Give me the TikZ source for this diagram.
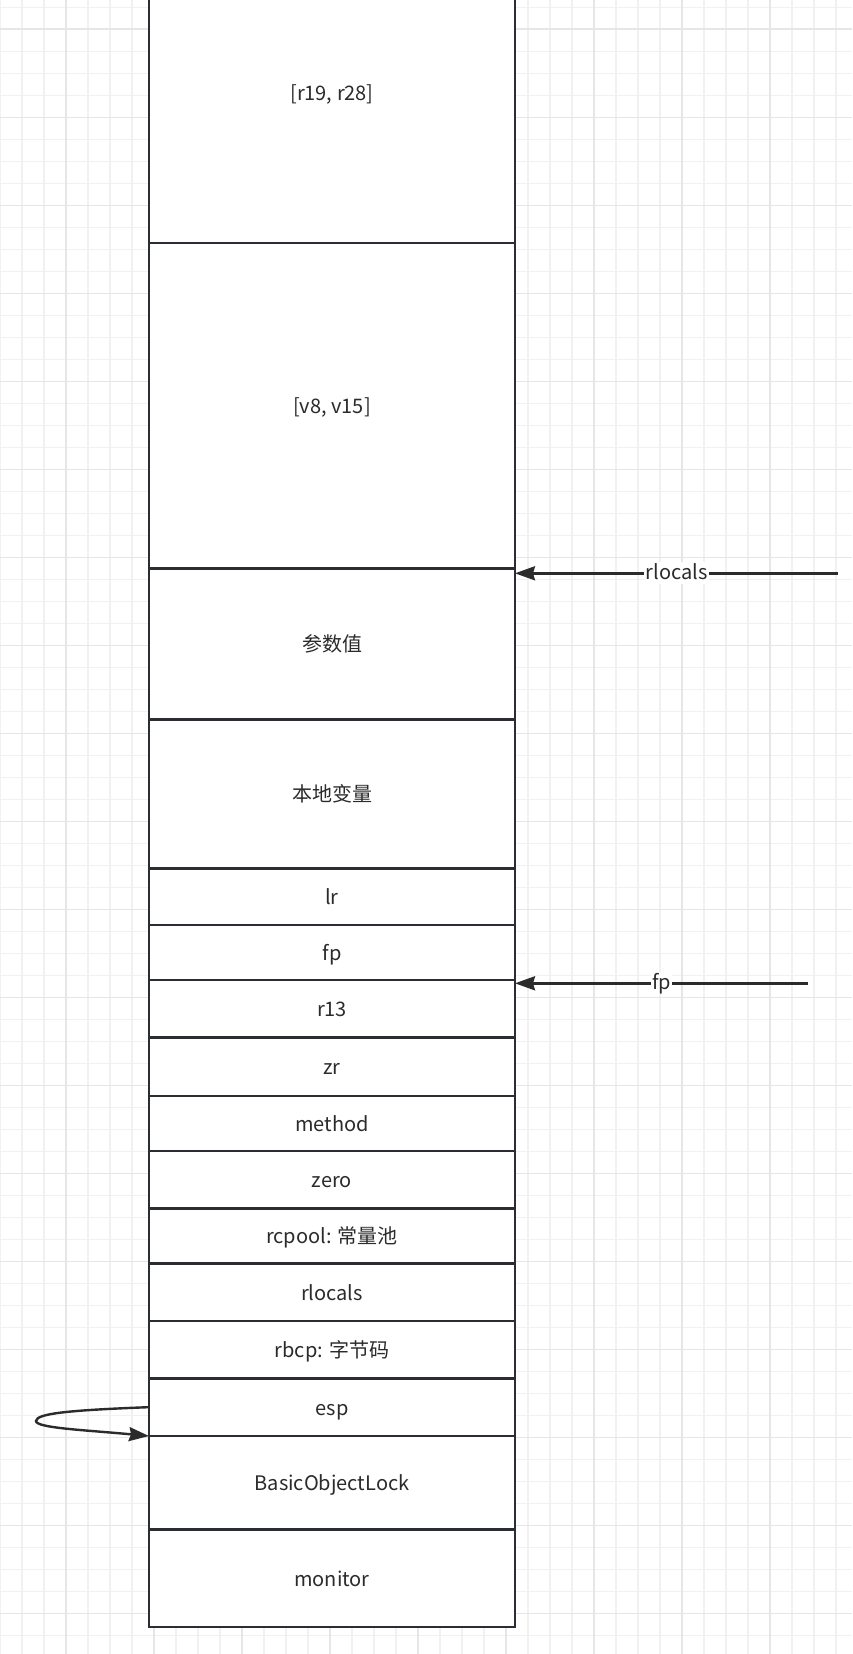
\documentclass[tikz,border=0pt]{standalone}
\usepackage{fontspec}
\setmainfont{Noto Sans CJK SC}
\usetikzlibrary{arrows.meta}
\definecolor{gridminor}{HTML}{F1F1F1}
\definecolor{gridmajor}{HTML}{E6E6E6}
\definecolor{boxline}{HTML}{2A2E33}
\definecolor{txt}{HTML}{2B2B2B}
\tikzset{
  cell/.style={draw=boxline, line width=2.4pt, fill=white, minimum width=366pt,
    inner sep=0pt, outer sep=0pt, text=txt, text height=16pt, text depth=0pt,
    font=\fontsize{20}{24}\selectfont},
  ptr/.style={draw=txt, line width=2.4pt, -{Stealth[length=20pt,width=14pt,inset=2pt]}},
  ptrlabel/.style={fill=white, inner sep=1.5pt, text=txt, text height=16pt, text depth=3pt,
    font=\fontsize{20}{24}\selectfont}
}
\newcommand{\stackcell}[4]{%
  \node[cell, minimum height={(#3)-(#2)}] (#1) at (332,{((#2)+(#3))/2}) {#4};}
\begin{document}
\begin{tikzpicture}[x=1pt,y=-1pt]
\useasboundingbox (0,0) rectangle (852,1654);
\clip (0,0) rectangle (852,1654);
\fill[white] (0,0) rectangle (852,1654);
% grid
\foreach \i in {0,...,38} {\draw[gridminor, line width=1.3pt] ({22*\i},0) -- ({22*\i},1654);}
\foreach \i in {0,...,75} {\draw[gridminor, line width=1.3pt] (0,{7.3+22*\i}) -- (852,{7.3+22*\i});}
\foreach \i in {0,...,8} {\draw[gridmajor, line width=1.6pt] ({66+88*\i},0) -- ({66+88*\i},1654);}
\foreach \i in {0,...,18} {\draw[gridmajor, line width=1.6pt] (0,{29.3+88*\i}) -- (852,{29.3+88*\i});}
% stack cells
\stackcell{rr}{-57}{242.7}{[r19, r28]}
\stackcell{vv}{242.7}{568.3}{[v8, v15]}
\stackcell{param}{568.3}{719.3}{参数值}
\stackcell{local}{719.3}{868.3}{本地变量}
\stackcell{lr}{868.3}{925}{lr}
\stackcell{fpcell}{925}{980}{fp}
\stackcell{rthirteen}{980}{1037.3}{r13}
\stackcell{zr}{1037.3}{1096}{zr}
\stackcell{method}{1096}{1150.7}{method}
\stackcell{zero}{1150.7}{1208.3}{zero}
\stackcell{rcpool}{1208.3}{1263.3}{rcpool: 常量池}
\stackcell{rlocals}{1263.3}{1321}{rlocals}
\stackcell{rbcp}{1321}{1378.3}{rbcp: 字节码}
\stackcell{esp}{1378.3}{1436}{esp}
\stackcell{lock}{1436}{1529.3}{BasicObjectLock}
\stackcell{monitor}{1529.3}{1626.7}{monitor}
% pointers
\coordinate (rlsrc) at (838,573.3);
\coordinate (fpsrc) at (808,983.3);
\draw[ptr] (rlsrc) -- node[ptrlabel] {rlocals} (rlsrc -| param.east);
\draw[ptr] (fpsrc) -- node[ptrlabel] {fp} (fpsrc -| rthirteen.east);
\coordinate (loopl) at (36,1421);
\draw[ptr] (esp.west) .. controls (75,1410) and (36,1413) .. (loopl)
  .. controls (36,1428) and (85,1430) .. (lock.north west);
\end{tikzpicture}
\end{document}
